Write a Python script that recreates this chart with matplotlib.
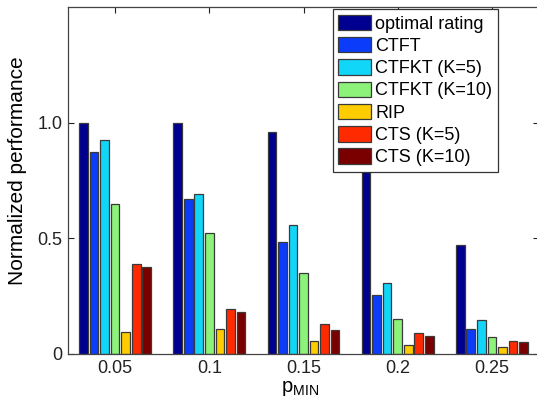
import matplotlib.pyplot as plt
import numpy as np

plt.rcParams['font.family'] = ['Liberation Sans', 'DejaVu Sans']

p_min = ['0.05', '0.1', '0.15', '0.2', '0.25']

methods = ['optimal rating', 'CTFT', 'CTFKT (K=5)', 'CTFKT (K=10)',
           'RIP', 'CTS (K=5)', 'CTS (K=10)']

optimal = [1.0, 1.0, 0.96, 0.83, 0.472]
ctft = [0.873, 0.668, 0.486, 0.257, 0.108]
ctfkt5 = [0.924, 0.691, 0.557, 0.309, 0.147]
ctfkt10 = [0.648, 0.521, 0.352, 0.150, 0.075]
rip = [0.094, 0.107, 0.055, 0.039, 0.029]
cts5 = [0.390, 0.193, 0.128, 0.090, 0.056]
cts10 = [0.378, 0.183, 0.105, 0.079, 0.051]

colors = ['#000090', '#0a3cfa', '#12d6f8', '#8cf27a',
          '#ffcc00', '#ff2a00', '#7a0000']

series = [optimal, ctft, ctfkt5, ctfkt10, rip, cts5, cts10]

fig = plt.figure(figsize=(5.37, 4.07), dpi=100)
ax = fig.add_axes([68 / 537, 53 / 407, 471 / 537, 347 / 407])

x = np.arange(1, len(p_min) + 1)
step = 0.112
width = 0.092
for i, vals in enumerate(series):
    ax.bar(x + (i - 3) * step, vals, width, color=colors[i],
           edgecolor='#3a3a3a', linewidth=0.9, label=methods[i], zorder=2)

ax.set_xlim(0.5, 5.5)
ax.set_ylim(0, 1.5)
ax.set_xticks(x)
ax.set_xticklabels(p_min)
ax.set_yticks([0, 0.5, 1.0])
ax.set_yticklabels(['0', '0.5', '1.0'])
ax.tick_params(direction='in', length=4, width=0.8, top=True, right=True,
               labelsize=13, colors='#222222', pad=4)
for s in ax.spines.values():
    s.set_color('#444444')
    s.set_linewidth(0.9)

ax.set_ylabel('Normalized performance', fontsize=15)
ax.yaxis.set_label_coords(-0.087, 0.527)
ax.set_xlabel(r'$\mathregular{p_{MIN}}$', fontsize=14.5)
ax.xaxis.set_label_coords(0.4926, -0.072)

leg = ax.legend(loc='upper left', bbox_to_anchor=(332.7 / 537, 1 - 9.3 / 407),
                bbox_transform=fig.transFigure, borderaxespad=0,
                fancybox=False, framealpha=1, edgecolor='#333333',
                fontsize=13, handlelength=1.83, handleheight=0.94,
                labelspacing=0.24, handletextpad=0.22, borderpad=0.3)
leg.get_frame().set_linewidth(0.9)
leg.set_zorder(5)

fig.savefig('out.png', dpi=100)
